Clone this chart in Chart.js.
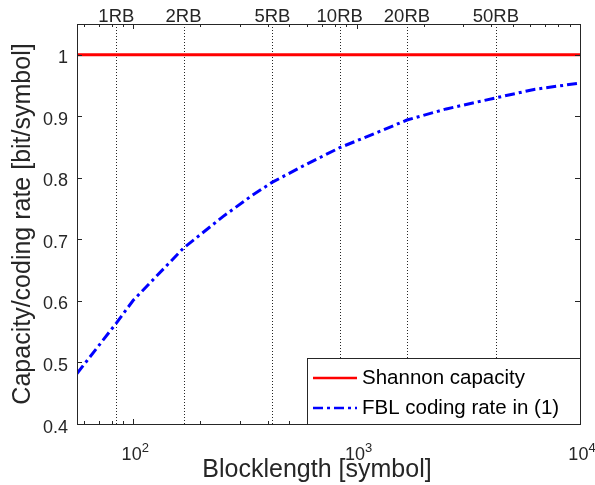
<!DOCTYPE html>
<html>
<head>
<meta charset="utf-8">
<script src="https://cdn.jsdelivr.net/npm/chart.js@4"></script>
<style>
  html, body { margin: 0; padding: 0; background: #fff; }
  #wrap { width: 595px; height: 485px; }
</style>
</head>
<body>
<div id="wrap"><canvas id="chart" width="595" height="485"></canvas></div>
<script>
// data
const blocklength = [56, 84, 100, 168, 252, 336, 420, 588, 840, 1260, 1680, 2520, 4200, 6300, 10000];
const fblRate = [0.482, 0.564, 0.601, 0.686, 0.737, 0.770, 0.793, 0.821, 0.849, 0.875, 0.894, 0.912, 0.930, 0.944, 0.954];
const shannonX = [56, 10000];
const shannonY = [1, 1];

const rbValues = [84, 168, 420, 840, 1680, 4200];
const rbLabels = ["1RB", "2RB", "5RB", "10RB", "20RB", "50RB"];

const xTicks = [100, 1000, 10000];
const xTickExp = ["2", "3", "4"];
const yTicks = [0.4, 0.5, 0.6, 0.7, 0.8, 0.9, 1];
const yTickLabels = ["0.4", "0.5", "0.6", "0.7", "0.8", "0.9", "1"];

const xTitle = "Blocklength [symbol]";
const yTitle = "Capacity/coding rate [bit/symbol]";

const ink = "#262626";
const fontFam = "'Liberation Sans', Arial, Helvetica, sans-serif";

const extras = {
  id: "extras",
  beforeDatasetsDraw(chart) {
    const ctx = chart.ctx;
    const a = chart.chartArea;
    const xs = chart.scales.x;
    ctx.save();
    ctx.strokeStyle = ink;
    ctx.lineWidth = 1;
    ctx.setLineDash([1, 2]);
    rbValues.forEach(v => {
      const px = Math.round(xs.getPixelForValue(v)) + 0.5;
      ctx.beginPath();
      ctx.moveTo(px, a.top);
      ctx.lineTo(px, a.bottom);
      ctx.stroke();
    });
    ctx.restore();
  },
  afterDatasetsDraw(chart) {
    const ctx = chart.ctx;
    const a = chart.chartArea;
    const xs = chart.scales.x;
    const ys = chart.scales.y;
    ctx.save();
    ctx.strokeStyle = ink;
    ctx.lineWidth = 1;
    ctx.setLineDash([]);
    // box
    ctx.strokeRect(Math.round(a.left) + 0.5, Math.round(a.top) + 0.5,
      Math.round(a.right - a.left), Math.round(a.bottom - a.top));

    // x ticks (major + minor), bottom and top
    ctx.beginPath();
    for (let d = 10; d <= 10000; d *= 10) {
      for (let m = 1; m <= 9; m++) {
        const v = d * m;
        if (v < xs.min || v > xs.max) continue;
        const len = m === 1 ? 5 : 3;
        const px = Math.round(xs.getPixelForValue(v)) + 0.5;
        ctx.moveTo(px, a.bottom); ctx.lineTo(px, a.bottom - len);
        ctx.moveTo(px, a.top); ctx.lineTo(px, a.top + len);
      }
    }
    // y ticks, left and right
    yTicks.forEach(v => {
      const py = Math.round(ys.getPixelForValue(v)) + 0.5;
      ctx.moveTo(a.left, py); ctx.lineTo(a.left + 5, py);
      ctx.moveTo(a.right, py); ctx.lineTo(a.right - 5, py);
    });
    ctx.stroke();

    ctx.fillStyle = ink;
    ctx.textBaseline = "alphabetic";

    // y tick labels
    ctx.font = "18px " + fontFam;
    ctx.textAlign = "right";
    yTicks.forEach((v, i) => {
      ctx.fillText(yTickLabels[i], a.left - 9, ys.getPixelForValue(v) + 8.5);
    });

    // x tick labels: 10 with superscript exponent
    xTicks.forEach((v, i) => {
      const px = xs.getPixelForValue(v);
      ctx.font = "18px " + fontFam;
      const w1 = ctx.measureText("10").width;
      ctx.font = "13px " + fontFam;
      const w2 = ctx.measureText(xTickExp[i]).width;
      const x0 = px - (w1 + w2) / 2 + 2;
      ctx.font = "18px " + fontFam;
      ctx.textAlign = "left";
      ctx.fillText("10", x0, 460);
      ctx.font = "13px " + fontFam;
      ctx.fillText(xTickExp[i], x0 + w1, 452);
    });

    // x axis title
    ctx.font = "25px " + fontFam;
    ctx.textAlign = "center";
    ctx.fillText(xTitle, 317, 477);

    // RB labels above the plot
    ctx.font = "18.5px " + fontFam;
    ctx.textAlign = "center";
    rbValues.forEach((v, i) => {
      ctx.fillText(rbLabels[i], xs.getPixelForValue(v), 22);
    });

    // legend box
    const lx = 307, ly = 358, lw = Math.round(a.right) - 307, lh = Math.round(a.bottom) - 358;
    ctx.fillStyle = "#fff";
    ctx.fillRect(lx, ly, lw, lh);
    ctx.strokeStyle = ink;
    ctx.lineWidth = 1;
    ctx.strokeRect(lx + 0.5, ly + 0.5, lw, lh);
    ctx.font = "20.5px " + fontFam;
    ctx.textAlign = "left";
    ctx.textBaseline = "middle";
    chart.data.datasets.forEach((ds, i) => {
      const yy = ly + 20 + i * 30;
      ctx.strokeStyle = ds.borderColor;
      ctx.lineWidth = 2.5;
      ctx.setLineDash(ds.borderDash || []);
      ctx.beginPath();
      ctx.moveTo(lx + 6, yy);
      ctx.lineTo(lx + 50, yy);
      ctx.stroke();
      ctx.setLineDash([]);
      ctx.fillStyle = "#000";
      ctx.fillText(ds.label, lx + 55, yy);
    });
    ctx.restore();
  }
};

new Chart(document.getElementById("chart"), {
  type: "line",
  data: {
    datasets: [
      {
        label: "Shannon capacity",
        data: shannonX.map((x, i) => ({ x: x, y: shannonY[i] })),
        borderColor: "#ff0000",
        borderWidth: 3,
        pointRadius: 0
      },
      {
        label: "FBL coding rate in (1)",
        data: blocklength.map((x, i) => ({ x: x, y: fblRate[i] })),
        borderColor: "#0000ff",
        borderWidth: 3,
        borderDash: [10, 4, 3, 4],
        pointRadius: 0
      }
    ]
  },
  options: {
    responsive: false,
    animation: false,
    layout: { padding: { top: 24, right: 15, left: 0, bottom: 0 } },
    plugins: { legend: { display: false }, tooltip: { enabled: false } },
    scales: {
      x: {
        type: "logarithmic",
        min: 56,
        max: 10000,
        grid: { display: false, drawTicks: false },
        border: { display: false },
        afterBuildTicks(scale) { scale.ticks = xTicks.map(v => ({ value: v })); },
        afterFit(scale) { scale.height = 61; },
        ticks: { display: false },
        title: { display: false }
      },
      y: {
        min: 0.4,
        max: 1.05,
        grid: { display: false, drawTicks: false },
        border: { display: false },
        afterBuildTicks(scale) { scale.ticks = yTicks.map(v => ({ value: v })); },
        afterFit(scale) { scale.width = 77; },
        ticks: { display: false },
        title: {
          display: true,
          text: yTitle,
          color: ink,
          font: { family: fontFam, size: 25 },
          padding: { top: 8, bottom: 0 }
        }
      }
    }
  },
  plugins: [extras]
});
</script>
</body>
</html>
